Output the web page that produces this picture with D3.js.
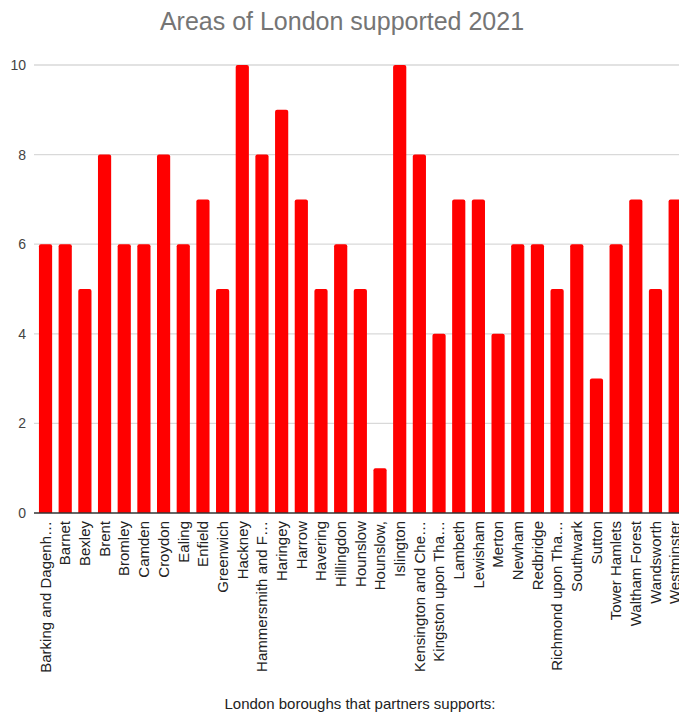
<!DOCTYPE html>
<html>
<head>
<meta charset="utf-8">
<script src="https://cdn.jsdelivr.net/npm/d3@7"></script>
<style>
  body { margin: 0; background: #fff; }
  text { font-family: "Liberation Sans", Arial, sans-serif; }
  .grid line { stroke: #d9d9d9; stroke-width: 1.3; }
</style>
</head>
<body>
<script>
// Areas of London supported 2021
var boroughs = ["Barking and Dagenh…", "Barnet", "Bexley", "Brent", "Bromley", "Camden",
  "Croydon", "Ealing", "Enfield", "Greenwich", "Hackney", "Hammersmith and F…",
  "Haringey", "Harrow", "Havering", "Hillingdon", "Hounslow", "Hounslow,", "Islington",
  "Kensington and Che…", "Kingston upon Tha…", "Lambeth", "Lewisham", "Merton", "Newham",
  "Redbridge", "Richmond upon Tha…", "Southwark", "Sutton", "Tower Hamlets",
  "Waltham Forest", "Wandsworth", "Westminster"];
var supported = [6, 6, 5, 8, 6, 6, 8, 6, 7, 5, 10, 8, 9, 7, 5, 6, 5, 1, 10, 8, 4, 7, 7, 4,
  6, 6, 5, 6, 3, 6, 7, 5, 7];
var yTicks = [0, 2, 4, 6, 8, 10];

var margin = {top: 65, right: 0, bottom: 202, left: 34},
    width = 679, height = 715,
    plotW = 651, plotH = height - margin.top - margin.bottom;

var svg = d3.select("body").append("svg")
    .attr("width", width)
    .attr("height", height);

svg.append("text")
    .attr("x", 342)
    .attr("y", 30)
    .attr("text-anchor", "middle")
    .style("font-size", "25px")
    .style("fill", "#757575")
    .text("Areas of London supported 2021");

var g = svg.append("g")
    .attr("transform", "translate(" + margin.left + "," + margin.top + ")");

var x = d3.scaleBand()
    .domain(boroughs)
    .range([1.7, plotW])
    .paddingInner(0.33)
    .paddingOuter(0.165);

var y = d3.scaleLinear()
    .domain([0, 10])
    .range([plotH, 0]);

// gridlines
g.append("g")
    .attr("class", "grid")
  .selectAll("line")
    .data(yTicks.slice(1))
  .enter().append("line")
    .attr("x1", 0)
    .attr("x2", plotW)
    .attr("y1", function(d) { return y(d); })
    .attr("y2", function(d) { return y(d); });

var yAxis = g.append("g")
    .call(d3.axisLeft(y).tickValues(yTicks).tickSize(0).tickPadding(8));
yAxis.select(".domain").remove();
yAxis.selectAll("text")
    .style("font-size", "14px")
    .style("fill", "#444")
    .attr("font-family", null);

// bars with slightly rounded tops
g.selectAll(".bar")
    .data(supported)
  .enter().append("path")
    .attr("class", "bar")
    .attr("fill", "#ff0000")
    .attr("d", function(d, i) {
      var x0 = x(boroughs[i]), w = x.bandwidth(), y0 = y(d), y1 = y(0), r = 2;
      return "M" + x0 + "," + y1 + "V" + (y0 + r) + "Q" + x0 + "," + y0 + " " + (x0 + r) + "," + y0
        + "H" + (x0 + w - r) + "Q" + (x0 + w) + "," + y0 + " " + (x0 + w) + "," + (y0 + r)
        + "V" + y1 + "Z";
    });

var xAxis = g.append("g")
    .attr("transform", "translate(0," + plotH + ")")
    .call(d3.axisBottom(x).tickSize(0).tickPadding(0));
xAxis.select(".domain")
    .attr("d", "M0,0H" + plotW)
    .attr("stroke", "#333")
    .attr("stroke-width", 1.3);
xAxis.selectAll("text")
    .attr("font-family", null)
    .style("font-size", "15px")
    .style("fill", "#222")
    .attr("transform", "rotate(-90)")
    .attr("text-anchor", "end")
    .attr("x", -8)
    .attr("y", 0)
    .attr("dy", "0.35em");

svg.append("text")
    .attr("x", 360)
    .attr("y", 709)
    .attr("text-anchor", "middle")
    .style("font-size", "15px")
    .style("fill", "#222")
    .text("London boroughs that partners supports:");
</script>
</body>
</html>
